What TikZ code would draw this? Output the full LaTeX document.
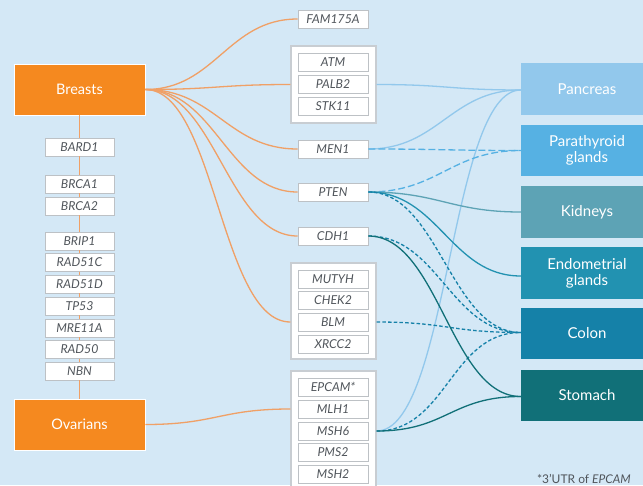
\documentclass[tikz,border=0pt]{standalone}
\usepackage{fontspec}
\setmainfont{Lato}
\definecolor{bg}{HTML}{D4E8F6}
\definecolor{orgbox}{HTML}{F5891F}
\definecolor{orgline}{HTML}{F0A066}
\definecolor{genegray}{HTML}{BDC1C5}
\definecolor{grpgray}{HTML}{C8CDD2}
\definecolor{genetext}{HTML}{50555B}
\definecolor{cpan}{HTML}{92C8EC}
\definecolor{cpar}{HTML}{56B1E3}
\definecolor{ckid}{HTML}{5DA3B5}
\definecolor{cend}{HTML}{2292B1}
\definecolor{ccol}{HTML}{1581A8}
\definecolor{csto}{HTML}{117078}
\begin{document}
\begin{tikzpicture}[x=1pt,y=-1pt,
  gene/.style={draw=genegray, fill=white, line width=0.8pt, minimum width=70pt, minimum height=18pt, inner sep=0pt, text=genetext, font=\fontsize{12.3}{13}\selectfont\itshape},
  grp/.style={draw=grpgray, fill=white, line width=1.3pt, minimum width=85pt, inner sep=0pt},
  src/.style={fill=orgbox, draw=white, line width=0.6pt, minimum width=131pt, minimum height=51pt, inner sep=0pt, text=white, font=\fontsize{14.5}{16}\selectfont},
  organ/.style={minimum width=132pt, minimum height=52pt, inner sep=0pt, text=white, align=center, font=\fontsize{15}{16}\selectfont},
  oline/.style={orgline, line width=1.3pt},
  conn/.style={line width=1.3pt},
  longdash/.style={dash pattern=on 7pt off 3pt},
  shortdash/.style={dash pattern=on 3.5pt off 2.2pt}
]
\useasboundingbox (0,0) rectangle (643,485);
\clip (0,0) rectangle (643,485);
\fill[bg] (0,0) rectangle (643,485);

% source boxes
\node[src] (brea) at (79.5,89.5) {Breasts};
\node[src] (ovar) at (79.5,424.5) {Ovarians};

% left column genes
\node[gene, minimum width=69pt] (bard1) at (79.5,147) {BARD1};
\node[gene, minimum width=69pt] (brca1) at (79.5,184) {BRCA1};
\node[gene, minimum width=69pt] (brca2) at (79.5,206) {BRCA2};
\node[gene, minimum width=69pt] (brip1) at (79.5,241) {BRIP1};
\node[gene, minimum width=69pt] (rad51c) at (79.5,262.5) {RAD51C};
\node[gene, minimum width=69pt] (rad51d) at (79.5,284) {RAD51D};
\node[gene, minimum width=69pt] (tp53) at (79.5,306) {TP53};
\node[gene, minimum width=69pt] (mre11a) at (79.5,328) {MRE11A};
\node[gene, minimum width=69pt] (rad50) at (79.5,349.5) {RAD50};
\node[gene, minimum width=69pt] (nbn) at (79.5,371) {NBN};
\draw[oline] (brea.south) -- (bard1.north);
\draw[oline] (bard1.south) -- (brca1.north);
\draw[oline] (brca1.south) -- (brca2.north);
\draw[oline] (brca2.south) -- (brip1.north);
\draw[oline] (brip1.south) -- (rad51c.north);
\draw[oline] (rad51c.south) -- (rad51d.north);
\draw[oline] (rad51d.south) -- (tp53.north);
\draw[oline] (tp53.south) -- (mre11a.north);
\draw[oline] (mre11a.south) -- (rad50.north);
\draw[oline] (rad50.south) -- (nbn.north);
\draw[oline] (nbn.south) -- (ovar.north);

% middle column
\node[gene] (fam) at (333,19) {FAM175A};
\node[grp, minimum height=77pt] (g1) at (333.5,84.5) {};
\node[gene] (atm) at (333,62) {ATM};
\node[gene] (palb2) at (333,84) {PALB2};
\node[gene] (stk11) at (333,106) {STK11};
\node[gene] (men1) at (333,149) {MEN1};
\node[gene] (pten) at (333,192) {PTEN};
\node[gene] (cdh1) at (333,236) {CDH1};
\node[grp, minimum height=96pt] (g2) at (333.5,311) {};
\node[gene] (mutyh) at (333,279) {MUTYH};
\node[gene] (chek2) at (333,300.5) {CHEK2};
\node[gene] (blm) at (333,322) {BLM};
\node[gene] (xrcc2) at (333,344) {XRCC2};
\node[grp, minimum height=121pt] (g3) at (333.5,431.5) {};
\node[gene] (epcam) at (333,387) {EPCAM*};
\node[gene] (mlh1) at (333,409) {MLH1};
\node[gene] (msh6) at (333,431) {MSH6};
\node[gene] (pms2) at (333,452.5) {PMS2};
\node[gene] (msh2) at (333,474) {MSH2};

% organs
\node[organ, fill=cpan] (pan) at (587,89) {Pancreas};
\node[organ, fill=cpar, minimum height=51pt] (par) at (587,150.5) {Parathyroid\\glands};
\node[organ, fill=ckid] (kid) at (587,212) {Kidneys};
\node[organ, fill=cend] (endo) at (587,273) {Endometrial\\glands};
\node[organ, fill=ccol, minimum height=51pt] (col) at (587,333.5) {Colon};
\node[organ, fill=csto, minimum height=51pt] (sto) at (587,395.5) {Stomach};

% orange connectors
\draw[oline] (brea.east) .. controls +(70,0) and +(-70,0) .. (fam.west);
\draw[oline] (brea.east) .. controls +(70,0) and +(-70,0) .. (g1.west);
\draw[oline] (brea.east) .. controls +(70,0) and +(-70,0) .. (men1.west);
\draw[oline] (brea.east) .. controls +(70,0) and +(-70,0) .. (pten.west);
\draw[oline] (brea.east) .. controls +(70,0) and +(-70,0) .. (cdh1.west);
\draw[oline] (brea.east) .. controls +(70,0) and +(-70,0) .. (g2.west |- blm.west);
\draw[oline] (ovar.east) .. controls +(70,0) and +(-70,0) .. (g3.west |- mlh1.west);

% right connectors
\draw[conn, cpan] (g1.east) .. controls +(70,0) and +(-70,0) .. ([yshift=-1pt]pan.west);
\draw[conn, cpan] (men1.east) .. controls +(70,0) and +(-70,0) .. ([yshift=-1pt]pan.west);
\draw[conn, cpan] (g3.east |- msh6.east) .. controls +(72,0) and +(-71,0) .. ([yshift=-1pt]pan.west);
\draw[conn, cpar, longdash] (men1.east) .. controls +(70,0) and +(-70,0) .. (par.west);
\draw[conn, cpar, longdash] (pten.east) .. controls +(70,0) and +(-70,0) .. (par.west);
\draw[conn, ckid] (pten.east) .. controls +(70,0) and +(-70,0) .. (kid.west);
\draw[conn, cend] (pten.east) .. controls +(70,0) and +(-70,0) .. ([yshift=-3pt]endo.west);
\draw[conn, ccol, shortdash] (pten.east) .. controls +(70,0) and +(-70,0) .. ([yshift=1pt]col.west);
\draw[conn, ccol, shortdash] (cdh1.east) .. controls +(70,0) and +(-70,0) .. ([yshift=1pt]col.west);
\draw[conn, ccol, shortdash] (g2.east |- blm.east) .. controls +(70,0) and +(-70,0) .. ([yshift=1pt]col.west);
\draw[conn, ccol, shortdash] (g3.east |- msh6.east) .. controls +(70,0) and +(-70,0) .. ([yshift=1pt]col.west);
\draw[conn, csto] (cdh1.east) .. controls +(70,0) and +(-70,0) .. ([yshift=-1pt]sto.west);
\draw[conn, csto] (g3.east |- msh6.east) .. controls +(70,0) and +(-70,0) .. ([yshift=-1pt]sto.west);

% footnote
\node[anchor=base east, inner sep=0pt, text=genetext, font=\fontsize{12}{14}\selectfont] (fn) at (631,483) {*3'UTR of \textit{EPCAM}};
\end{tikzpicture}
\end{document}
